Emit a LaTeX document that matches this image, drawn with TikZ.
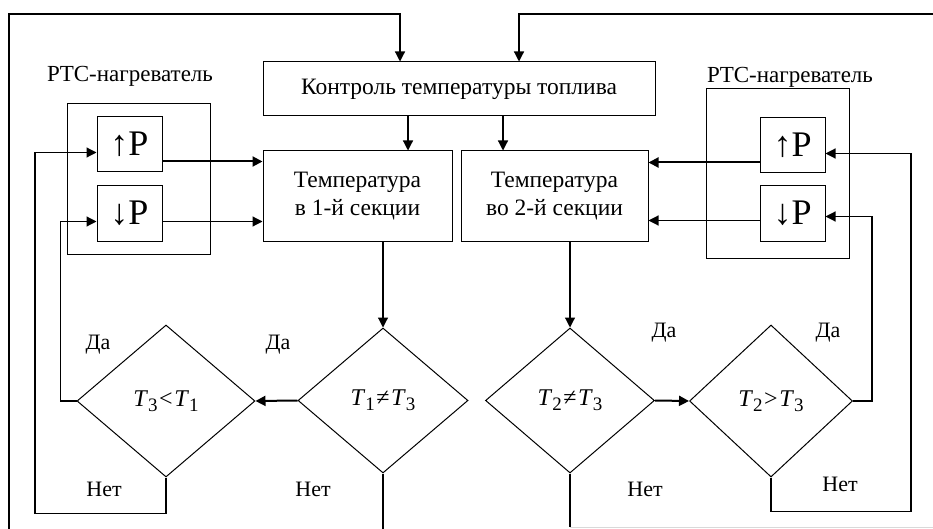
\documentclass[tikz,border=0pt]{standalone}
\usepackage{fontspec}
\setmainfont{Liberation Serif}
\usetikzlibrary{shapes.geometric, arrows.meta, positioning, calc}
\newcommand{\Tsb}[1]{\textit{T}\raisebox{-0.45ex}{\fontsize{19}{19}\selectfont #1}}
\newcommand{\rl}[1]{\kern1.5pt#1\kern1.5pt}

\begin{document}
\begin{tikzpicture}[x=1pt, y=-1pt,
  block/.style={rectangle, draw, line width=1pt, inner sep=0pt, align=center, font=\fontsize{23.5}{28}\selectfont},
  heater/.style={rectangle, draw, line width=1pt, inner sep=0pt},
  pbox/.style={rectangle, draw, line width=1pt, inner sep=0pt, minimum width=65pt, minimum height=55pt, font=\fontsize{36}{38}\selectfont},
  decision/.style={diamond, draw, line width=1pt, inner sep=0pt, font=\fontsize{24}{28}\selectfont},
  arr/.style={-{Triangle[length=10pt, width=10pt]}, line width=1.2pt},
  warr/.style={arr, line width=2pt},
  ln/.style={line width=1.2pt},
  lbl/.style={font=\fontsize{22}{26}\selectfont, inner sep=0pt},
  htitle/.style={font=\fontsize{23}{27}\selectfont, inner sep=0pt}
]
  \useasboundingbox (0,0) rectangle (933,529);
  \node[block, minimum width=392pt, minimum height=54pt] (ctrl) at (459, 89) {Контроль температуры топлива};
  \node[block, minimum width=189pt, minimum height=90pt] (sec1) at (357.5, 196) {Температура\\в 1-й секции};
  \node[block, minimum width=187pt, minimum height=90pt] (sec2) at (554.5, 196) {Температура\\во 2-й секции};
  \node[heater, minimum width=143pt, minimum height=150pt] (heatL) at (138.5, 179) {};
  \node[htitle] (titleL) at (130, 76) {PTC-нагреватель};
  \node[pbox] (upL) at (129.5, 144.5) {↑P};
  \node[pbox] (dnL) at (129.5, 213.5) {↓P};
  \node[heater, minimum width=143pt, minimum height=169pt] (heatR) at (777.5, 173.5) {};
  \node[htitle] (titleR) at (790, 77) {PTC-нагреватель};
  \node[pbox] (upR) at (792.5, 145.5) {↑P};
  \node[pbox] (dnR) at (792.5, 213.5) {↓P};
  \node[decision, minimum width=170pt, minimum height=145pt] (neq1) at (383, 400.5) {\Tsb{1}\rl{≠}\Tsb{3}};
  \node[decision, minimum width=178pt, minimum height=152pt] (less) at (166, 401) {\Tsb{3}\rl{<}\Tsb{1}};
  \node[decision, minimum width=169pt, minimum height=145pt] (neq2) at (570, 400.5) {\Tsb{2}\rl{≠}\Tsb{3}};
  \node[decision, minimum width=163pt, minimum height=152pt] (more) at (771, 401) {\Tsb{2}\rl{>}\Tsb{3}};
  \coordinate (inL) at (9, 529);
  \coordinate (inR) at (933, 14);
  \coordinate (outL) at (383, 529);
  \coordinate (outR) at (933, 527);
  \draw[arr] (inL) -- (9, 14) -| ([xshift=-59pt]ctrl.north);
  \draw[arr] (inR) -| ([xshift=60pt]ctrl.north);
  \draw[arr] ([xshift=-51pt]ctrl.south) -- ([xshift=-51pt]ctrl.south |- sec1.north);
  \draw[arr] ([xshift=44pt]ctrl.south) -- ([xshift=44pt]ctrl.south |- sec2.north);
  \draw[warr] ([yshift=-17pt]upL.east) -- ([yshift=-17pt]upL.east -| sec1.west);
  \draw[arr] ([yshift=-8pt]dnL.east) -- ([yshift=-8pt]dnL.east -| sec1.west);
  \draw[warr] ([yshift=-17pt]upR.west) -- ([yshift=-17pt]upR.west -| sec2.east);
  \draw[arr] ([yshift=-7pt]dnR.west) -- ([yshift=-7pt]dnR.west -| sec2.east);
  \draw[arr] (sec1.south -| neq1.north) -- (neq1.north);
  \draw[arr] (sec2.south -| neq2.north) -- (neq2.north);
  \draw[warr] (neq1.west) -- (less.east);
  \draw[warr] (neq2.east) -- (more.west);
  \draw[arr] (less.west) -- ++(-16, 0) |- ([yshift=-8pt]dnL.west);
  \draw[arr] (less.south) -- ++(0, 36) -- ++(-131, 0) |- ([yshift=-8pt]upL.west);
  \draw[arr] (more.east) -- ++(19, 0) |- ([yshift=-3pt]dnR.east);
  \draw[arr] (more.south) -- ++(0, 34) -- ++(140, 0) |- ([yshift=-8pt]upR.east);
  \draw[ln] (neq1.south) -- (outL);
  \draw[ln] (neq2.south) -- (neq2.south |- outR);
  \draw[line width=1pt, black!15] (neq2.south |- outR) -- (outR);
  \node[lbl] (yesA) at (98, 345) {Да};
  \node[lbl] (yesB) at (278, 345) {Да};
  \node[lbl] (noA) at (104, 489) {Нет};
  \node[lbl] (noB) at (313, 489) {Нет};
  \node[lbl] (yesC) at (664, 333) {Да};
  \node[lbl] (yesD) at (828, 333) {Да};
  \node[lbl] (noC) at (645, 489) {Нет};
  \node[lbl] (noD) at (840, 484) {Нет};
\end{tikzpicture}
\end{document}
